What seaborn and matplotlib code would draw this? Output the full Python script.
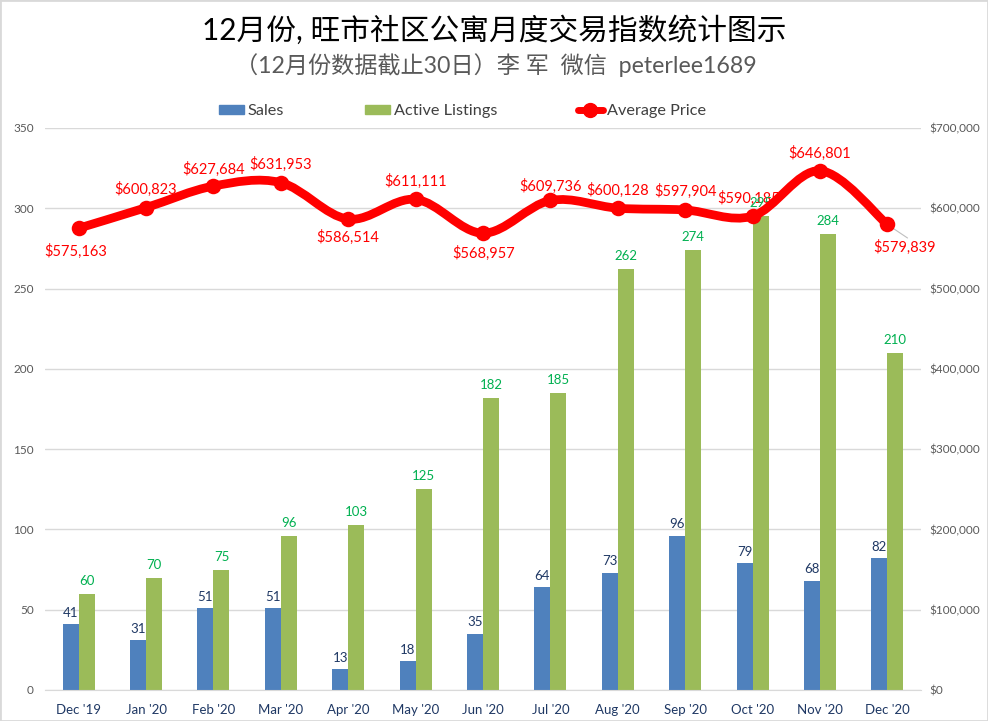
# -*- coding: utf-8 -*-
import numpy as np
import pandas as pd
import matplotlib.pyplot as plt
import seaborn as sns
from matplotlib.lines import Line2D
from matplotlib.patches import Patch, PathPatch, Rectangle
from matplotlib.path import Path
from matplotlib.ticker import FuncFormatter

months = ["Dec '19", "Jan '20", "Feb '20", "Mar '20", "Apr '20", "May '20", "Jun '20",
          "Jul '20", "Aug '20", "Sep '20", "Oct '20", "Nov '20", "Dec '20"]
sales = [41, 31, 51, 51, 13, 18, 35, 64, 73, 96, 79, 68, 82]
listings = [60, 70, 75, 96, 103, 125, 182, 185, 262, 274, 295, 284, 210]
prices = [575163, 600823, 627684, 631953, 586514, 611111, 568957,
          609736, 600128, 597904, 590185, 646801, 579839]

# pixel offsets of the price labels from their markers
price_offsets = [(-3, -23), (0, 18), (0, 17), (0, 18), (0, -18), (0, 18), (1, -20),
                 (0, 14), (0, 18), (0, 19), (-4, 18), (0, 17), (17, -23)]

BLUE = '#4F81BD'
GREEN = '#9BBB59'
RED = '#FF0000'
GREY = '#595959'
NAVY = '#1F3864'
LABEL_GREEN = '#00B050'
FONTS = ['Lato', 'Noto Sans CJK SC']

sns.set_style('white')
plt.rcParams['font.family'] = FONTS

fig = plt.figure(figsize=(9.88, 7.21), dpi=100)
ax = fig.add_axes([45 / 988, 1 - 690 / 721, 876 / 988, 562 / 721])

df = pd.DataFrame({'month': months, 'Sales': sales, 'Active Listings': listings})
long_df = df.melt(id_vars='month', var_name='series', value_name='value')
sns.barplot(data=long_df, x='month', y='value', hue='series', order=months,
            palette=[BLUE, GREEN], width=0.475, saturation=1, linewidth=0, legend=False, ax=ax)

ax.set_xlim(-0.5, 12.5)
ax.set_ylim(0, 350)
ax.set_yticks(range(0, 351, 50))
ax.set_xlabel('')
ax.set_ylabel('')
ax.grid(axis='y', color='#D9D9D9', lw=1)
ax.set_axisbelow(True)
ax.tick_params(axis='y', length=0, labelsize=8.5, labelcolor=GREY, pad=8)
ax.tick_params(axis='x', length=0, labelsize=9.5, labelcolor=NAVY, pad=10)
sns.despine(ax=ax, left=True, right=True, top=True)
ax.spines['bottom'].set_color('#D9D9D9')

# price axis
ax2 = ax.twinx()
ax2.set_ylim(0, 700000)
ax2.set_yticks(range(0, 700001, 100000))
ax2.yaxis.set_major_formatter(FuncFormatter(lambda v, p: f'${v:,.0f}'))
ax2.tick_params(axis='y', length=0, labelsize=8.5, labelcolor=GREY, pad=6)
sns.despine(ax=ax2, left=True, right=True, top=True, bottom=True)
ax2.grid(False)

# bar labels, kept on ax2 so they sit over the price labels but under the line
for i in range(len(months)):
    ax2.annotate(str(sales[i]), (i - 0.119, sales[i]), xycoords=ax.transData, xytext=(0, 4),
                 textcoords='offset points', ha='center', va='bottom', fontsize=9.5, color=NAVY, zorder=3)
    ax2.annotate(str(listings[i]), (i + 0.119, listings[i]), xycoords=ax.transData, xytext=(0, 5),
                 textcoords='offset points', ha='center', va='bottom', fontsize=9.5, color=LABEL_GREEN,
                 zorder=3)

# smoothed line, same kind of bezier a spreadsheet uses
x = np.arange(len(prices), dtype=float)
y = np.array(prices, dtype=float)
px = np.r_[x[0], x, x[-1]]
py = np.r_[y[0], y, y[-1]]
verts = [(x[0], y[0])]
codes = [Path.MOVETO]
for i in range(1, len(px) - 2):
    c1 = (px[i] + (px[i + 1] - px[i - 1]) / 6, py[i] + (py[i + 1] - py[i - 1]) / 6)
    c2 = (px[i + 1] - (px[i + 2] - px[i]) / 6, py[i + 1] - (py[i + 2] - py[i]) / 6)
    verts += [c1, c2, (px[i + 1], py[i + 1])]
    codes += [Path.CURVE4] * 3

for i in range(len(months)):
    dx, dy = price_offsets[i]
    ax2.annotate(f'${prices[i]:,}', (i, prices[i]), xytext=(dx * 0.72, dy * 0.72),
                 textcoords='offset points', ha='center', va='center', fontsize=10.5, color=RED,
                 zorder=2, annotation_clip=False)
ax2.plot([12, 12.3], [prices[-1], 563000], color='#BFBFBF', lw=0.8, zorder=2)

ax2.add_patch(PathPatch(Path(verts, codes), fc='none', ec=RED, lw=6.3, capstyle='round', zorder=4))
sns.scatterplot(x=x, y=y, color=RED, s=125, linewidth=0, zorder=5, legend=False, ax=ax2)
ax2.set_ylim(0, 700000)
ax2.set_xlim(-0.5, 12.5)

# titles
fig.text(494 / 988, 1 - 30 / 721, '12月份, 旺市社区公寓月度交易指数统计图示', ha='center', va='center',
         fontsize=21.4, color='black')
fig.text(496 / 988, 1 - 65 / 721, '（12月份数据截止30日）李 军  微信  peterlee1689', ha='center', va='center',
         fontsize=16.7, color=GREY)

handles = [Patch(color=BLUE, label='Sales'),
           Patch(color=GREEN, label='Active Listings'),
           Line2D([0], [0], color=RED, lw=5, marker='o', ms=10, label='Average Price')]
fig.legend(handles=handles, loc='center', bbox_to_anchor=(462.5 / 988, 1 - 111 / 721), ncol=3, frameon=False,
           fontsize=11.7, labelcolor='#404040', handlelength=1.5, handleheight=0.5, handletextpad=0.25,
           columnspacing=5.0)

# thin frame round the picture
fig.add_artist(Rectangle((0, 0), 1, 1, transform=fig.transFigure, fill=False, ec='#D9D9D9', lw=2))

fig.savefig('out.png', dpi=100)
